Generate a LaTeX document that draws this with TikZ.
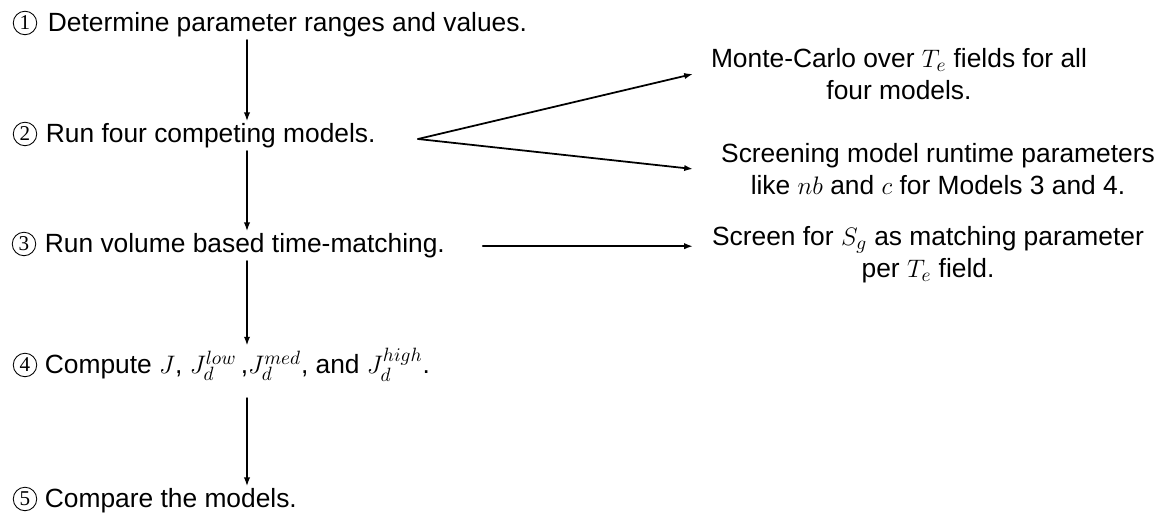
\documentclass[tikz,border=0pt]{standalone}
\usepackage{fontspec}
\setmainfont{Liberation Sans}
\newfontfamily\numfont{Liberation Serif}
\usetikzlibrary{arrows.meta}
\tikzset{
  stepnode/.style={anchor=base west, inner xsep=0pt, inner ysep=1pt},
  stepnum/.style={circle, draw, line width=0.5pt, minimum size=0.47cm, inner sep=0pt, font=\numfont\fontsize{12}{12}\selectfont},
  sidenode/.style={align=center, inner sep=0pt}
}
\begin{document}
\begin{tikzpicture}[font=\fontsize{15}{18}\selectfont, line join=round, line cap=round, >={Latex[length=5pt,width=3.6pt]}, line width=1pt]
\useasboundingbox (0,0) rectangle (23.34,-10.26);
% main column
\node[stepnode] (s1) at (0.94,-0.64) {Determine parameter ranges and values.};
\node[stepnode] (s2) at (0.90,-2.86) {Run four competing models.};
\node[stepnode] (s3) at (0.88,-5.06) {Run volume based time-matching.};
\node[stepnode] (s4) at (0.88,-7.48) {Compute $J$, $J_d^{low}$\,,$J_d^{med}$, and $J_d^{high}$.};
\node[stepnode] (s5) at (0.88,-10.16) {Compare the models.};
\node[stepnum] (c1) at (0.50,-0.46) {1};
\node[stepnum] (c2) at (0.50,-2.68) {2};
\node[stepnum] (c3) at (0.48,-4.88) {3};
\node[stepnum] (c4) at (0.50,-7.30) {4};
\node[stepnum] (c5) at (0.50,-9.98) {5};
% side notes
\node[sidenode] (r1) at (17.98,-1.48) {Monte-Carlo over $T_e$ fields for all\\four models.};
\node[sidenode] (r2) at (18.76,-3.38) {Screening model runtime parameters\\like $nb$ and $c$ for Models 3 and 4.};
\node[sidenode] (r3) at (18.56,-5.10) {Screen for $S_g$ as matching parameter\\per $T_e$ field.};
\coordinate (axis) at (4.94,0);
\coordinate (tips) at (13.86,0);
\coordinate (fork) at (8.36,-2.78);
\draw[->] (s1.south -| axis) -- (s2.north -| axis);
\draw[->] (s2.south -| axis) -- (s3.north -| axis);
\draw[->] (s3.south -| axis) -- (s4.north -| axis);
\draw[->, shorten <=8pt] (s4.south -| axis) -- (s5.north -| axis);
\draw[->] (fork) -- (r1.west -| tips);
\draw[->] (fork) -- (r2.west -| tips);
\draw[->] ([xshift=0.74cm]s3.east) -- (s3.east -| tips);
\end{tikzpicture}
\end{document}
